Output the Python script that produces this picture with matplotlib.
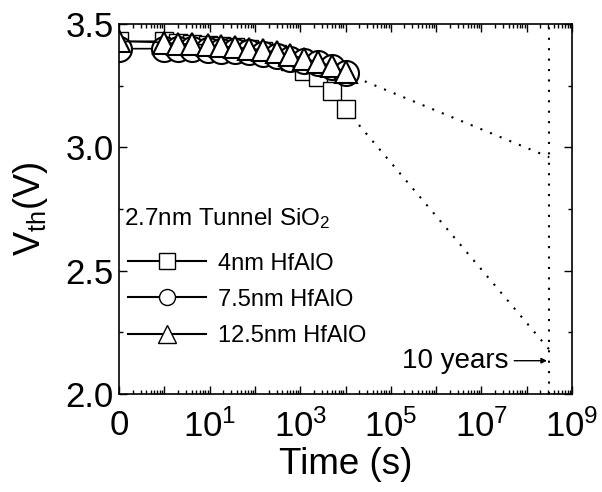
import matplotlib
matplotlib.use("Agg")
import matplotlib.pyplot as plt
from matplotlib.lines import Line2D
from matplotlib.ticker import FixedLocator, LogLocator, MultipleLocator, FixedFormatter, NullFormatter
import numpy as np

plt.rcParams['font.family'] = ['Liberation Sans', 'DejaVu Sans']
plt.rcParams['mathtext.fontset'] = 'custom'
plt.rcParams['mathtext.rm'] = 'Liberation Sans'
plt.rcParams['mathtext.it'] = 'Liberation Sans:italic'

# time axis: t = 0 is drawn at 1e-1 (labelled "0")
t_zero = 0.1
times = [1, 2, 4, 9, 18, 37, 75, 150, 300, 600, 1200, 2500, 5000, 10000]

vth_4nm = [3.43, 3.43, 3.425, 3.42, 3.415, 3.41, 3.405, 3.40, 3.39, 3.38, 3.35, 3.31, 3.285, 3.23, 3.155]
vth_75nm = [3.40, 3.40, 3.40, 3.40, 3.395, 3.39, 3.39, 3.385, 3.38, 3.37, 3.36, 3.35, 3.34, 3.325, 3.30]
vth_125nm = [3.43, 3.425, 3.42, 3.418, 3.415, 3.41, 3.405, 3.40, 3.395, 3.385, 3.375, 3.36, 3.345, 3.33, 3.305]

labels = ['4nm HfAlO', '7.5nm HfAlO', '12.5nm HfAlO']
legend_title = '2.7nm Tunnel SiO$_2$'

# extrapolation to 10 years
ten_years = 3.15e8
extrap_t = [10000, ten_years]
extrap_upper = [3.30, 2.96]
extrap_lower = [3.155, 2.18]

xtick_lab = ['0', '$\\mathregular{10^{1}}$', '$\\mathregular{10^{3}}$',
             '$\\mathregular{10^{5}}$', '$\\mathregular{10^{7}}$', '$\\mathregular{10^{9}}$']
ytick_pos = [2.0, 2.5, 3.0, 3.5]
ytick_lab = ['2.0', '2.5', '3.0', '3.5']

fig = plt.figure(figsize=(6.02, 4.92), dpi=100)
ax = fig.add_axes([0.1977, 0.1992, 0.7525, 0.752])

t_all = [t_zero] + times
dot = (0, (1, 4))

ax.axvline(ten_years, color='k', lw=1.5, ls=dot)
ax.plot(extrap_t, extrap_upper, color='k', lw=1.5, ls=dot)
ax.plot(extrap_t, extrap_lower, color='k', lw=1.5, ls=dot)

kw = dict(color='k', lw=1.2, mfc='white', mec='k', clip_on=True)
l1, = ax.plot(t_all, vth_4nm, '-', marker='s', ms=13.5, mew=1, **kw)
l2, = ax.plot(t_all, vth_75nm, '-', marker='o', ms=18, mew=1.5, **kw)
l3, = ax.plot(t_all, vth_125nm, '-', marker='^', ms=16, mew=1.5, **kw)
for ln in (l1, l2, l3):
    ln.set_clip_path(ax.patch)

ax.annotate('10 years', xy=(2.8e8, 2.135), xytext=(4.0e7, 2.135),
            ha='right', va='center', fontsize=20,
            arrowprops=dict(arrowstyle='-|>', color='k', lw=1, mutation_scale=8,
                            shrinkA=2, shrinkB=0))

ax.set_xscale('log')
ax.set_xlim(1e-1, 1e9)
ax.set_ylim(2.0, 3.5)

# every decade gets a major tick, only the odd ones are labelled
ax.xaxis.set_major_locator(FixedLocator([10.0 ** k for k in range(-1, 10)]))
ax.xaxis.set_major_formatter(FixedFormatter(['0', '', xtick_lab[1], '', xtick_lab[2], '',
                                             xtick_lab[3], '', xtick_lab[4], '', xtick_lab[5]]))
ax.xaxis.set_minor_locator(LogLocator(base=10, subs=np.arange(2, 10), numticks=20))
ax.xaxis.set_minor_formatter(NullFormatter())

ax.yaxis.set_major_locator(FixedLocator(ytick_pos))
ax.yaxis.set_major_formatter(FixedFormatter(ytick_lab))
ax.yaxis.set_minor_locator(MultipleLocator(0.25))

ax.tick_params(which='both', direction='in', top=True, right=True, labelsize=25, width=1)
ax.tick_params(which='major', length=6)
ax.tick_params(which='minor', length=3)
ax.tick_params(axis='x', which='major', pad=11)
ax.tick_params(axis='y', which='major', pad=4)
for s in ax.spines.values():
    s.set_linewidth(1.2)

ax.set_xlabel('Time (s)', fontsize=26.5, labelpad=2)
ax.set_ylabel('V$_{\\mathregular{th}}$(V)', fontsize=26, labelpad=11)

ax.text(0.012, 0.475, legend_title, transform=ax.transAxes, fontsize=17.5, va='center', ha='left')
handles = [
    Line2D([], [], color='k', lw=1.5, marker='s', ms=11.5, mfc='white', mec='k'),
    Line2D([], [], color='k', lw=1.5, marker='o', ms=11.5, mfc='white', mec='k'),
    Line2D([], [], color='k', lw=1.5, marker='^', ms=12.5, mfc='white', mec='k'),
]
ax.legend(handles, labels, loc='upper left', bbox_to_anchor=(0.01, 0.395), frameon=False,
          fontsize=17, handlelength=3.3, handletextpad=0.5, labelspacing=0.6,
          borderaxespad=0, borderpad=0.2)

fig.savefig('out.png', dpi=100)
